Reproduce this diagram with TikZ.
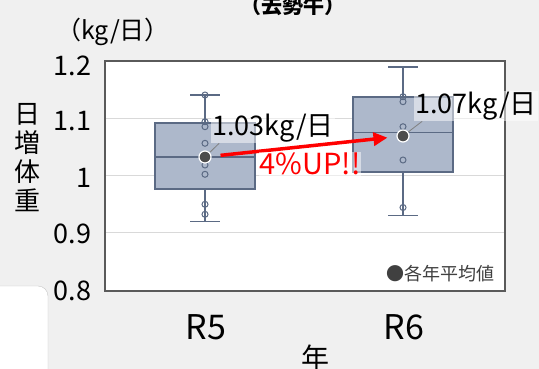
\documentclass[tikz,border=0pt]{standalone}
\usepackage{fontspec}
\setmainfont{Noto Sans CJK JP}
\usetikzlibrary{arrows.meta}
\definecolor{bgray}{HTML}{F0F0F0}
\definecolor{boxfill}{HTML}{ADB8CB}
\definecolor{boxline}{HTML}{5B6A84}
\definecolor{gridc}{HTML}{D9D9D9}
\definecolor{framec}{HTML}{5A5A5A}
\definecolor{meanc}{HTML}{4D4D4D}
\newcommand{\setfs}[1]{\fontsize{#1}{#1}\selectfont}

\begin{document}
\begin{tikzpicture}[x=1pt,y=-1pt,
  box/.style={fill=boxfill,draw=boxline,line width=1.5pt},
  whisk/.style={draw=boxline,line width=1.5pt},
  dotpt/.style={circle,draw=boxline,line width=1pt,inner sep=0pt,minimum size=6pt},
  mean/.style={circle,fill=meanc,draw=white,line width=1.2pt,inner sep=0pt,minimum size=12pt},
  ticklab/.style={anchor=east,font=\setfs{27}},
  val/.style={font=\setfs{27},fill=white,fill opacity=0.5,text opacity=1,inner sep=1pt}]
\fill[bgray] (0,0) rectangle (539,369);
\useasboundingbox (0,0) rectangle (539,369);

% plot area
\draw[framec,line width=1.5pt,fill=white] (105,61) rectangle (505,291);
\foreach \y in {119,175.5,232}
  \draw[gridc,line width=1pt] (106,\y) -- (504,\y);

% boxes: x / box top / box bottom / median / upper cap / lower cap
\foreach \x/\bt/\bb/\md/\hi/\lo in {205/123/189/157/95/221.5, 403/97/172/132.5/67/215.5}{
  \draw[whisk] (\x,\bt) -- (\x,\hi) (\x-15,\hi) -- (\x+15,\hi);
  \draw[whisk] (\x,\bb) -- (\x,\lo) (\x-15,\lo) -- (\x+15,\lo);
  \draw[box] (\x-50,\bt) rectangle (\x+50,\bb);
  \draw[whisk] (\x-50,\md) -- (\x+50,\md);
}
\foreach \y in {95,121.7,126.7,143.3,165,174.3,204.3,214.3}
  \node[dotpt] at (205,\y) {};
\foreach \y in {96.7,101.7,126.7,160,207.5}
  \node[dotpt] at (403,\y) {};

% values
\node[val] (l5) at (273,128) {1.03kg/日};
\node[val] (l6) at (476,106) {1.07kg/日};
\coordinate (c5) at (205,157);
\coordinate (c6) at (403,136);
\draw[gray,line width=0.8pt] (c5) -- ([xshift=8pt]l5.south west);
\draw[gray,line width=0.8pt] (c6) -- ([xshift=8pt]l6.south west);
\node[mean] (m5) at (c5) {};
\node[mean] (m6) at (c6) {};
\draw[red,line width=3.5pt,-{Triangle[length=14pt,width=13pt]},shorten <=9pt,shorten >=9pt] (m5) -- (m6);
\node[val,text=red,font=\setfs{29}] (up) at (310,164) {4\%UP!!};

% axes
\node[ticklab] (t12) at (95,66) {1.2};
\node[ticklab] (t11) at (95,121) {1.1};
\node[ticklab] (t10) at (95,178) {1};
\node[ticklab] (t09) at (95,234) {0.9};
\node[ticklab] (t08) at (95,291) {0.8};
\node[font=\setfs{25}] (unit) at (113,32) {（kg/日）};
\node[font=\fontsize{26}{29}\selectfont,align=center] (ylab) at (27,158) {日\\増\\体\\重};
\node[font=\setfs{34}] (r5) at (206,327) {R5};
\node[font=\setfs{34}] (r6) at (404,327) {R6};
\node[font=\setfs{28}] (xlab) at (315,358) {年};
\node[font=\setfs{21}\bfseries] (title) at (293,6) {（去勢牛）};
\node[font=\setfs{18},text=darkgray,anchor=east] (leg) at (498,274) {●各年平均値};

% panel at lower left
\draw[gray!45,fill=white,rounded corners=10pt] (-10,286) rectangle (48,390);
\end{tikzpicture}
\end{document}
